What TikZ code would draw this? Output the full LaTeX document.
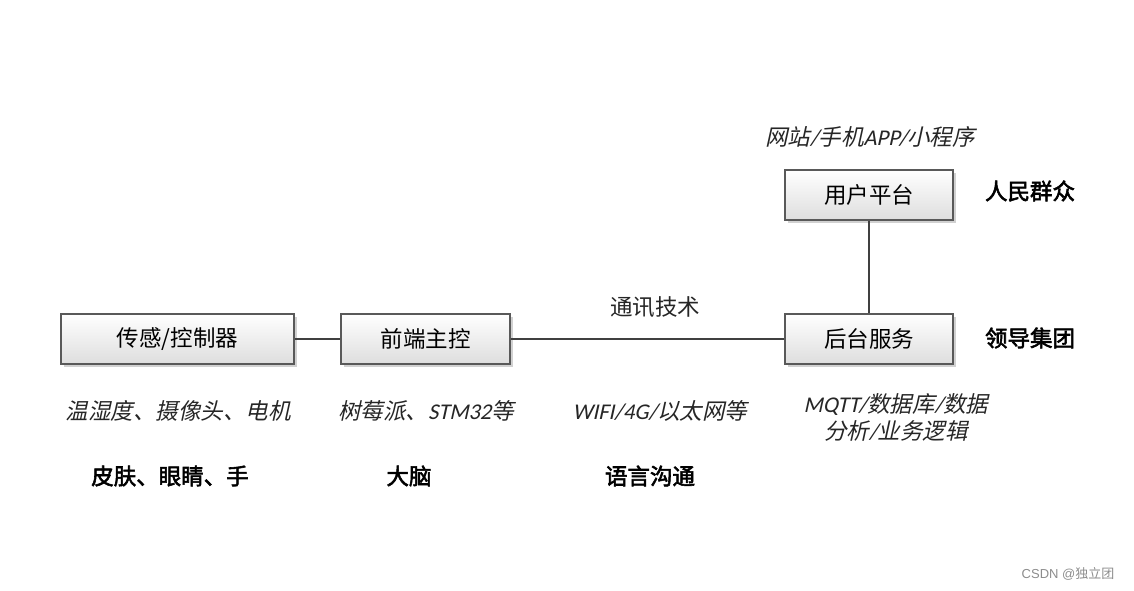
\documentclass[tikz,border=0pt]{standalone}
\usepackage{fontspec}
\setmainfont{Carlito}
\newfontfamily\cjk{Noto Sans CJK SC}
\newfontfamily\cjkit[FakeSlant=0.22]{Noto Sans CJK SC}
\newfontfamily\cjkbf[FakeBold=2.5]{Noto Sans CJK SC}
\newfontfamily\latit[FakeSlant=0.22]{Carlito}
\usetikzlibrary{shadows}
\definecolor{edgec}{HTML}{404040}
\definecolor{boxb}{HTML}{595959}
\tikzset{
  box/.style={draw=boxb, line width=2pt, minimum height=50pt, inner sep=0pt,
    top color=white, bottom color=black!13, font=\cjk\fontsize{22.5}{26}\selectfont,
    drop shadow={shadow xshift=3pt, shadow yshift=-3pt, fill=black!18, opacity=1}},
  link/.style={draw=edgec, line width=2.8pt},
  itxt/.style={font=\cjkit\fontsize{22.5}{26}\selectfont, text=black!85, inner sep=0pt},
  btxt/.style={font=\cjkbf\fontsize{22.5}{26}\selectfont, inner sep=0pt},
  ntxt/.style={font=\cjk\fontsize{22.5}{26}\selectfont, text=black!85, inner sep=0pt},
}
\begin{document}
\begin{tikzpicture}[x=1pt,y=-1pt]
\useasboundingbox (0,0) rectangle (1134,590);
\node[box, minimum width=233pt] (sens) at (177.5,339) {传感/控制器};
\node[box, minimum width=169pt] (front) at (425.5,339) {前端主控};
\node[box, minimum width=168pt] (back) at (869,339) {后台服务};
\node[box, minimum width=168pt] (user) at (869,195) {用户平台};
\draw[link] (sens.east) -- (front.west);
\draw[link] (front.east) -- (back.west);
\draw[link] (user.south) -- (back.north);
\node[ntxt] (comm) at (655,307) {通讯技术};
\node[itxt] (web) at (870,137) {网站{\latit /}手机{\latit APP/}小程序};
\node[btxt] (people) at (1030,191) {人民群众};
\node[btxt] (lead) at (1030,338) {领导集团};
\node[itxt] (t1) at (178,411) {温湿度、摄像头、电机};
\node[itxt] (t2) at (426,411) {树莓派、{\latit STM32}等};
\node[itxt] (t3) at (660,411) {{\latit WIFI/4G/}以太网等};
\node[itxt, align=center] (t4) at (896,417) {{\latit MQTT/}数据库{\latit /}数据\\[1pt]分析{\latit /}业务逻辑};
\node[btxt] (b1) at (170,476) {皮肤、眼睛、手};
\node[btxt] (b2) at (409,476) {大脑};
\node[btxt] (b3) at (650,476) {语言沟通};
\node[font=\cjk\fontsize{13}{15}\selectfont, text=black!45, inner sep=0pt] (wm) at (1068,574) {{\fontspec{Liberation Sans}CSDN @}独立团};
\end{tikzpicture}
\end{document}
